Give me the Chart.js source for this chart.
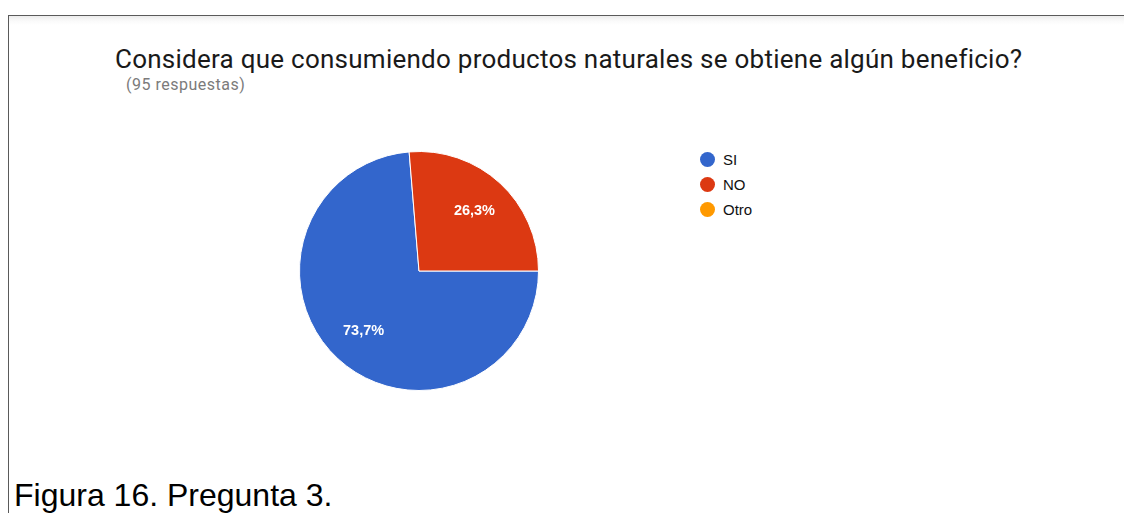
<!DOCTYPE html>
<html lang="es">
<head>
<meta charset="utf-8">
<title>Figura 16. Pregunta 3.</title>
<script src="https://cdn.jsdelivr.net/npm/chart.js@4.4.1/dist/chart.umd.min.js"></script>
<style>
  html, body { margin: 0; padding: 0; background: #fff; width: 1124px; height: 513px; overflow: hidden; position: relative; }
  /* recuadro de la captura de Forms */
  .card {
    position: absolute; left: 8px; top: 15px; width: 1130px; height: 520px;
    border-top: 1px solid #5a5a5a; border-left: 1px solid #5a5a5a;
    background: linear-gradient(to bottom, #ececec 0px, #fafafa 5px, #fff 9px);
  }
  .title {
    position: absolute; left: 115px; top: 46px; margin: 0;
    font: 400 26px Roboto, "Noto Sans", sans-serif; letter-spacing: 0.25px; line-height: 1; color: #1a1a1a; white-space: nowrap;
  }
  .subtitle {
    position: absolute; left: 126px; top: 76.5px; margin: 0;
    font: 400 16px Roboto, "Noto Sans", sans-serif; letter-spacing: 0.5px; line-height: 1; color: #7b7b7b; white-space: nowrap;
  }
  .pie { position: absolute; left: 299px; top: 151px; width: 240px; height: 240px; }
  .legend { position: absolute; left: 700px; top: 146.5px; margin: 0; padding: 0; list-style: none; }
  .legend li { display: flex; align-items: center; height: 25.3px; font: 15px "Liberation Sans", Arial, sans-serif; color: #111; }
  .legend .dot { width: 15px; height: 15px; border-radius: 50%; margin-right: 8px; }
  .caption {
    position: absolute; left: 14px; top: 478.6px; margin: 0;
    font: 32px "Liberation Sans", Arial, sans-serif; line-height: 1; color: #000; white-space: nowrap;
  }
</style>
</head>
<body>
<div class="card"></div>
<p class="title">Considera que consumiendo productos naturales se obtiene algún beneficio?</p>
<p class="subtitle">(95 respuestas)</p>
<div class="pie"><canvas id="pie-chart" width="240" height="240"></canvas></div>
<ul class="legend" id="pie-legend"></ul>
<p class="caption">Figura 16. Pregunta 3.</p>

<script>
// Respuestas a la pregunta 3
const categories = ['SI', 'NO', 'Otro'];
const responses = [70, 25, 0];
const sliceColors = ['#3366CC', '#DC3912', '#FF9900'];

// Porcentaje con coma decimal, como en el formulario
function formatPercent(value, total) {
  return (value / total * 100).toFixed(1).replace('.', ',') + '%';
}

// Etiquetas de porcentaje dentro de cada porción
const sliceLabels = {
  id: 'sliceLabels',
  afterDatasetsDraw(chart) {
    const ctx = chart.ctx;
    const data = chart.data.datasets[0].data;
    const total = data.reduce((a, b) => a + b, 0);

    ctx.save();
    ctx.fillStyle = '#fff';
    ctx.font = 'bold 14.5px "Liberation Sans", Arial, sans-serif';
    ctx.textAlign = 'center';
    ctx.textBaseline = 'middle';
    chart.getDatasetMeta(0).data.forEach((arc, i) => {
      if (!data[i]) return;
      const { x, y, startAngle, endAngle, outerRadius } =
        arc.getProps(['x', 'y', 'startAngle', 'endAngle', 'outerRadius'], true);
      const mid = (startAngle + endAngle) / 2;
      const r = outerRadius * 0.685;
      ctx.fillText(formatPercent(data[i], total), x + Math.cos(mid) * r, y + Math.sin(mid) * r);
    });
    ctx.restore();
  }
};

// Leyenda en HTML a partir de los items que genera Chart.js
const htmlLegend = {
  id: 'htmlLegend',
  afterUpdate(chart) {
    const list = document.getElementById('pie-legend');
    list.innerHTML = '';
    const items = chart.options.plugins.legend.labels.generateLabels(chart);
    items.forEach((item) => {
      const li = document.createElement('li');
      const dot = document.createElement('span');
      dot.className = 'dot';
      dot.style.background = item.fillStyle;
      li.appendChild(dot);
      li.appendChild(document.createTextNode(item.text));
      list.appendChild(li);
    });
  }
};

new Chart(document.getElementById('pie-chart'), {
  type: 'pie',
  data: {
    labels: categories,
    datasets: [{
      data: responses,
      backgroundColor: sliceColors,
      borderColor: '#fff',
      borderWidth: 1
    }]
  },
  options: {
    responsive: false,
    animation: false,
    rotation: 90,
    layout: { padding: 0 },
    plugins: {
      legend: { display: false },
      tooltip: { enabled: false }
    }
  },
  plugins: [sliceLabels, htmlLegend]
});
</script>
</body>
</html>
